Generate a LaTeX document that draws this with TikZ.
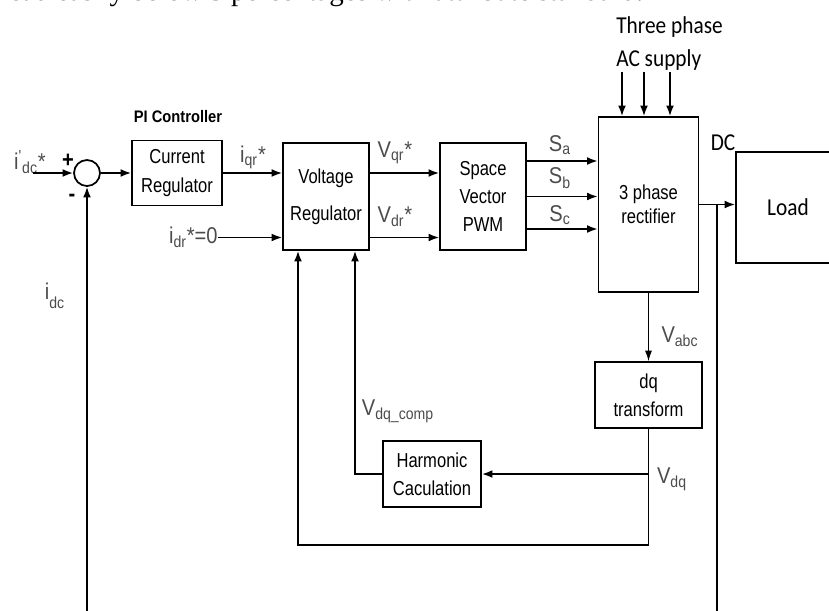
\documentclass[tikz,border=0pt]{standalone}
\usepackage{fontspec}
\newfontfamily\diagsans[FakeStretch=0.88]{Liberation Sans}
\newfontfamily\diagblk[FakeStretch=0.82]{Liberation Sans}
\newfontfamily\diagcal[FakeStretch=0.88]{Carlito}
\newfontfamily\diagserif{Liberation Serif}
\usetikzlibrary{calc,positioning,arrows.meta}
\definecolor{lblgray}{gray}{0.3}

\tikzset{
  blk/.style={draw, line width=1pt, align=center, inner sep=0pt, font=\diagblk\fontsize{11.5}{16}\selectfont},
  lbl/.style={text=lblgray, inner sep=0pt, font=\diagsans\fontsize{13}{15}\selectfont},
  cal/.style={inner sep=0pt, font=\diagcal\fontsize{13.8}{16}\selectfont},
  arr/.style={line width=1pt, -{Latex[length=6pt,width=4.5pt]}},
  thinarr/.style={line width=0.6pt, -{Latex[length=6pt,width=4pt]}},
}

\begin{document}
\begin{tikzpicture}[x=0.02cm, y=-0.02cm]
\useasboundingbox (0,0) rectangle (829,610);
% body text line cut off above the figure
\node[anchor=base west, inner sep=0pt, font=\diagserif\fontsize{16.5}{18}\selectfont] (cuttext) at (-1,0) {read easily below 5 percentages with attribute standard.};

% blocks
\node[circle, draw, line width=1pt, minimum size=0.52cm, inner sep=0pt] (sum) at (87,173) {};
\node[blk, minimum width=1.8cm, minimum height=1.3cm] (cur) at (177,173) {Current\\Regulator};
\node[inner sep=0pt, font=\diagsans\bfseries\fontsize{9.5}{11}\selectfont] (pic) at (178,117) {PI Controller};
\node[blk, minimum width=1.72cm, minimum height=2.14cm, font=\diagblk\fontsize{11.5}{21}\selectfont] (volt) at (326,196.5) {Voltage\\Regulator};
\node[blk, minimum width=1.72cm, minimum height=2.14cm] (svm) at (483,196.5) {Space\\Vector\\PWM};
\node[blk, minimum width=2cm, minimum height=3.5cm, font=\diagblk\fontsize{11.5}{13.8}\selectfont] (rect) at (648.5,204.5) {3 phase\\rectifier};
\node[draw, line width=1pt, minimum width=2.08cm, minimum height=2.22cm, cal] (load) at (788,207.5) {Load};
\node[blk, minimum width=2.14cm, minimum height=1.32cm] (dq) at (648.5,395) {dq\\transform};
\node[blk, minimum width=1.96cm, minimum height=1.32cm] (harm) at (432,474) {Harmonic\\Caculation};

% labels
\node[lbl] (lidc) at (30,162) {i\textsuperscript{'}\textsubscript{dc}*};
\node[inner sep=0pt, font=\diagsans\bfseries\fontsize{13}{15}\selectfont] (plus) at (68,161) {+};
\node[inner sep=0pt, font=\diagsans\bfseries\fontsize{13}{15}\selectfont] (minus) at (72,198) {-};
\node[lbl] (liqr) at (253,157) {i\textsubscript{qr}*};
\node[lbl, anchor=east] (idr) at (218,237.5) {i\textsubscript{dr}*=0};
\node[lbl] (lvqr) at (395,153) {V\textsubscript{qr}*};
\node[lbl] (lvdr) at (395,217) {V\textsubscript{dr}*};
\node[lbl] (lsa) at (560,145) {S\textsubscript{a}};
\node[lbl] (lsb) at (560,178) {S\textsubscript{b}};
\node[lbl] (lsc) at (560,215) {S\textsubscript{c}};
\node[cal, anchor=base west] (tp) at (616,33) {Three phase};
\node[cal, anchor=base west] (acs) at (616,66) {AC supply};
\node[cal] (dc) at (723,143) {DC};
\node[lbl] (lidcfb) at (55,296) {i\textsubscript{\raisebox{-3pt}{dc}}};
\node[lbl] (lvabc) at (680,337) {V\textsubscript{abc}};
\node[lbl] (lvdq) at (672,479) {V\textsubscript{dq}};
\node[lbl] (lvcomp) at (398,411) {V\textsubscript{dq\_comp}};

% forward path
\coordinate (idcin) at (33,173);
\draw[arr] (idcin) -- (sum.west);
\draw[arr] (sum.east) -- (cur.west);
\draw[arr] (cur.east) -- (cur.east -| volt.west);
\draw[arr] (idr.east) -- (idr.east -| volt.west);
\draw[arr] (volt.east |- cur.east) -- (svm.west |- cur.east);
\draw[arr] (volt.east |- idr.east) -- (svm.west |- idr.east);
\foreach \dy/\nm in {-35.5/a, 0/b, 32.5/c}{
  \coordinate (s\nm) at ($(svm.east)+(0,\dy)$);
  \draw[arr] (s\nm) -- (s\nm -| rect.west);
}
\foreach \x [count=\i] in {622,644,670}{
  \coordinate (ac\i) at (\x,72);
  \draw[arr] (ac\i) -- (ac\i |- rect.north);
}
\draw[arr] (rect.east) -- (rect.east -| load.west);

% feedback paths
\coordinate (jdc) at (717,204.5);
\coordinate (fbl) at (400,612);
\draw[arr] (jdc) |- (fbl) -| (sum.south);
\draw[thinarr] (rect.south) -- (dq.north);
\coordinate (vdq) at (dq.south |- harm.east);
\draw[arr] (vdq) -- (harm.east);
\coordinate (low) at (450,545);
\draw[arr] (dq.south) |- (low) -| ($(volt.south)+(-28,0)$);
\draw[arr] (harm.west) -| ($(volt.south)+(29,0)$);
\end{tikzpicture}
\end{document}
